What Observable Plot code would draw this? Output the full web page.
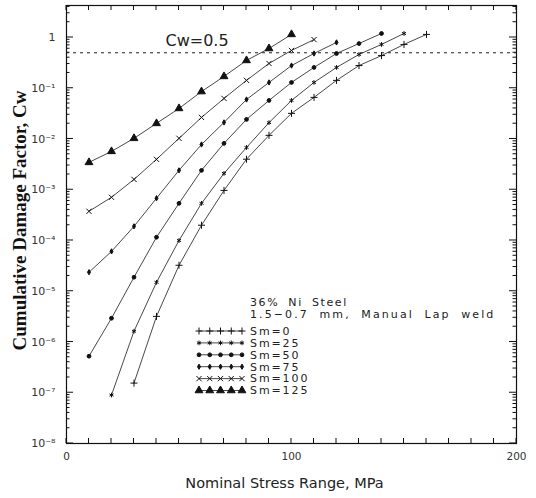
<!DOCTYPE html>
<html><head><meta charset="utf-8">
<script src="https://cdn.jsdelivr.net/npm/d3@7"></script>
<script src="https://cdn.jsdelivr.net/npm/@observablehq/plot@0.6"></script>
<style>
body{margin:0;background:#fff;}
#chart svg{font-family:"DejaVu Sans",Arial,sans-serif;}
</style>
</head><body><div id="chart"></div>
<script>
// ---- data ----
const seriesNames = ["Sm=0","Sm=25","Sm=50","Sm=75","Sm=100","Sm=125"];
const stressSm0   = [30,40,50,60,70,80,90,100,110,120,130,140,150,160];
const cwSm0       = [1.55e-7,3.2e-6,3.25e-5,2.0e-4,9.7e-4,4.0e-3,1.18e-2,3.2e-2,6.6e-2,0.143,0.28,0.44,0.73,1.15];
const stressSm25  = [20,30,40,50,60,70,80,90,100,110,120,130,140,150];
const cwSm25      = [9.0e-8,1.63e-6,1.5e-5,1.0e-4,5.4e-4,2.1e-3,6.8e-3,2.1e-2,5.75e-2,0.13,0.257,0.463,0.73,1.2];
const stressSm50  = [10,20,30,40,50,60,70,80,90,100,110,120,130,140];
const cwSm50      = [5.25e-7,2.94e-6,1.89e-5,1.16e-4,5.4e-4,2.41e-3,8.2e-3,2.43e-2,5.75e-2,0.13,0.257,0.484,0.76,1.2];
const stressSm75  = [10,20,30,40,50,60,70,80,90,100,110,120];
const cwSm75      = [2.37e-5,6.1e-5,1.9e-4,6.8e-4,2.41e-3,7.8e-3,2.12e-2,6.0e-2,0.13,0.28,0.484,0.8];
const stressSm100 = [10,20,30,40,50,60,70,80,90,100,110];
const cwSm100     = [3.76e-4,7.1e-4,1.6e-3,3.97e-3,1.03e-2,2.66e-2,6.3e-2,0.143,0.308,0.555,0.91];
const stressSm125 = [10,20,30,40,50,60,70,80,90,100];
const cwSm125     = [3.46e-3,5.7e-3,1.03e-2,2.03e-2,4.0e-2,8.6e-2,0.171,0.353,0.607,1.15];
const xTickLabels = [0,100,200];
const yTickLabels = ["10⁻⁸","10⁻⁷","10⁻⁶","10⁻⁵","10⁻⁴","10⁻³","10⁻²","10⁻¹","1"];
const refLevel = [0.5];
const refLabel = ["Cw=0.5"];
const legendTitle = ["36% Ni Steel","1.5\u22120.7 mm, Manual Lap weld"];

// ---- build table ----
const stressArrays = [stressSm0,stressSm25,stressSm50,stressSm75,stressSm100,stressSm125];
const cwArrays = [cwSm0,cwSm25,cwSm50,cwSm75,cwSm100,cwSm125];
const rows = [];
seriesNames.forEach((s,i)=>stressArrays[i].forEach((x,j)=>rows.push({series:s, stress:x, cw:cwArrays[i][j]})));

// marker styles per series
const symbolOf = {"Sm=0":"plus","Sm=25":"asterisk","Sm=50":"circle","Sm=75":"diamond","Sm=100":"times","Sm=125":"triangle"};
const d3Sym = {"plus":d3.symbolPlus,"asterisk":d3.symbolAsterisk,"circle":d3.symbolCircle,"diamond":d3.symbolDiamond,"times":d3.symbolTimes,"triangle":d3.symbolTriangle};
const rOf = {"Sm=0":2.4,"Sm=25":2.2,"Sm=50":1.9,"Sm=75":1.6,"Sm=100":2.5,"Sm=125":2.9};
const filled = {"Sm=50":true,"Sm=75":true,"Sm=125":true};

const majorY = d3.range(-8,1).map(e=>Math.pow(10,e));
const minorY = [];
for (let e=-8;e<=0;e++) for (let k=2;k<=9;k++){ const v=k*Math.pow(10,e); if (v<4.27) minorY.push(v); }
const tens = d3.range(0,201,10);

const lineColor = "#333";
const textFont = "DejaVu Sans, Arial, sans-serif";

// inward ticks on all four sides of the frame, placed through the scales
function frameTicks(index, scales, values, dims) {
  const {x, y} = scales;
  const L = dims.marginLeft, R = dims.width - dims.marginRight, T = dims.marginTop, B = dims.height - dims.marginBottom;
  const g = d3.create("svg:g").attr("stroke","#111").attr("stroke-width",1).attr("fill","none");
  let p = "";
  tens.forEach(v=>{ const px = x(v); p += `M${px},${B}v-5M${px},${T}v5`; });
  majorY.forEach(v=>{ const py = y(v); p += `M${L},${py}h7M${R},${py}h-7`; });
  minorY.forEach(v=>{ const py = y(v); p += `M${L},${py}h3.5M${R},${py}h-3.5`; });
  g.append("path").attr("d", p);
  return g.node();
}

function legend(index, scales, values, dims) {
  const g = d3.create("svg:g").attr("font-family",textFont).attr("font-size",11).attr("fill","#222").attr("text-anchor","start");
  const x0 = 199, x1 = 242, xt = 250;
  legendTitle.forEach((t,i)=>g.append("text").attr("x",xt).attr("y",302+12*i).attr("dy","0.35em")
    .attr("letter-spacing", i===0 ? "1.6" : "2.1").attr("word-spacing", i===0 ? "4" : "5").text(t));
  seriesNames.forEach((s,i)=>{
    const y = 331 + 11.9*i;
    g.append("line").attr("x1",x0).attr("x2",x1).attr("y1",y).attr("y2",y).attr("stroke",lineColor).attr("stroke-width",0.9);
    const sym = d3.symbol(d3Sym[symbolOf[s]], Math.PI*rOf[s]*rOf[s]);
    for (let k=0;k<5;k++){
      const px = x0 + k*(x1-x0)/4;
      g.append("path").attr("d",sym()).attr("transform",`translate(${px},${y})`)
        .attr("fill", filled[s] ? "#111" : "none").attr("stroke","#111").attr("stroke-width",1);
    }
    g.append("text").attr("x",xt).attr("y",y).attr("dy","0.35em").attr("letter-spacing","1.9").text(s);
  });
  return g.node();
}

const plot = Plot.plot({
  width: 536,
  height: 498,
  marginLeft: 66,
  marginRight: 20,
  marginTop: 5,
  marginBottom: 55,
  style: {background:"#fff", color:"#222", fontSize:"11px", fontFamily: textFont},
  x: {domain:[0,200]},
  y: {type:"log", domain:[1e-8, 4.27]},
  r: {type:"identity"},
  symbol: {type:"identity"},
  marks: [
    Plot.axisX({ticks: xTickLabels, tickSize: 0, tickPadding: 9, label: null, fontSize: 10.5, fill:"#333"}),
    Plot.axisY({ticks: majorY, tickSize: 0, tickPadding: 11, label: null, fontSize: 11, fill:"#333",
                tickFormat: d=>yTickLabels[majorY.indexOf(d)]}),
    Plot.frame({stroke:"#111", strokeWidth:1.2}),
    frameTicks,
    Plot.ruleY(refLevel, {stroke:"#222", strokeDasharray:"3,4", strokeWidth:1}),
    Plot.text(refLabel, {x: ()=>44, y: ()=>0.87, text: d=>d, textAnchor:"start", fontSize:16, letterSpacing:2, fill:"#222"}),
    Plot.line(rows, {x:"stress", y:"cw", z:"series", stroke: lineColor, strokeWidth:0.9}),
    Plot.dot(rows, {x:"stress", y:"cw", symbol: d=>symbolOf[d.series], r: d=>rOf[d.series],
                    fill: d=>filled[d.series] ? "#111" : "none", stroke:"#111", strokeWidth:1}),
    legend,
    Plot.text(["Cumulative Damage Factor, Cw"], {frameAnchor:"left", rotate:-90, dx:-47, dy:-4, text:d=>d, textAnchor:"middle",
      fontSize:19, fontWeight:"bold", fontFamily:"Liberation Serif, Times New Roman, serif", fill:"#111", letterSpacing: 2.5}),
    Plot.text(["Nominal Stress Range, MPa"], {frameAnchor:"bottom", dy:44, dx:-7, text:d=>d, textAnchor:"middle",
      fontSize:14.5, fill:"#222", letterSpacing: 3.2})
  ]
});
document.getElementById("chart").append(plot);
</script>
</body></html>
